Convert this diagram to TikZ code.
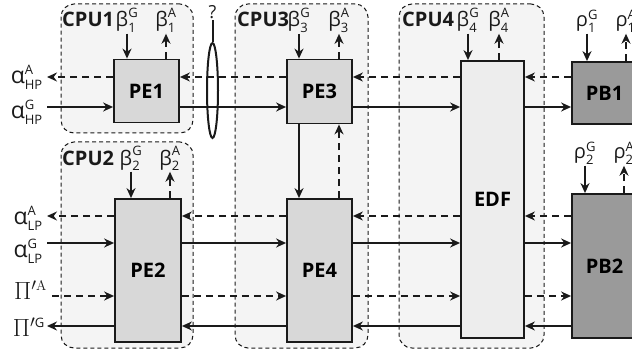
\documentclass[tikz,border=0pt]{standalone}
\usepackage[no-math]{fontspec}
\usepackage{amsmath}
\setmainfont{Open Sans}
\newfontfamily\lmr{Latin Modern Roman}
\usetikzlibrary{arrows.meta,shapes.geometric}
\definecolor{cpufill}{HTML}{F4F4F4}
\definecolor{pefill}{HTML}{D8D8D8}
\definecolor{edffill}{HTML}{EDEDED}
\definecolor{pbfill}{HTML}{9A9A9A}
\definecolor{ink}{HTML}{1A1A1A}
\newcommand\scr[1]{\text{\fontsize{13}{15}\selectfont #1}}
\newcommand\lab[3]{$\text{#1}^{\scr{#2}}_{\scr{#3}}$}
\begin{document}
\begin{tikzpicture}[x=1pt,y=-1pt,
  cpu/.style={draw=ink, line width=1pt, dash pattern=on 4pt off 3pt, fill=cpufill, rounded corners=13pt, inner sep=0pt},
  blk/.style={draw=ink, line width=1.8pt, inner sep=0pt, font=\fontsize{20}{24}\selectfont\bfseries},
  pe/.style={blk, fill=pefill},
  lbl/.style={inner sep=1pt, font=\fontsize{20}{24}\selectfont, text=ink},
  cpulbl/.style={inner sep=0pt, font=\fontsize{20}{24}\selectfont\bfseries, text=ink, anchor=base west},
  conn/.style={draw=ink, line width=2.2pt, -{Stealth[length=10pt,width=9pt]}},
  sol/.style={conn},
  das/.style={conn, dash pattern=on 7pt off 5pt},
]
\useasboundingbox (0,0) rectangle (632,350);
% CPU regions
\node[cpu, minimum width=132pt, minimum height=129pt] (cpu1) at (127,68.5) {};
\node[cpu, minimum width=132pt, minimum height=206pt] (cpu2) at (127,245) {};
\node[cpu, minimum width=133pt, minimum height=344pt] (cpu3) at (301.5,176) {};
\node[cpu, minimum width=145pt, minimum height=344pt] (cpu4) at (471.5,176) {};
% blocks
\node[pe, minimum width=65pt, minimum height=63pt] (pe1) at (146.5,91) {PE1};
\node[pe, minimum width=65pt, minimum height=64pt] (pe3) at (319.5,91.5) {PE3};
\node[pe, minimum width=66pt, minimum height=143pt] (pe2) at (148,270.5) {PE2};
\node[pe, minimum width=65pt, minimum height=143pt] (pe4) at (319.5,270.5) {PE4};
\node[blk, fill=edffill, minimum width=63pt, minimum height=277pt] (edf) at (492.5,199.5) {EDF};
\node[blk, fill=pbfill, minimum width=65pt, minimum height=62pt] (pb1) at (604.5,93) {PB1};
\node[blk, fill=pbfill, minimum width=65pt, minimum height=144pt] (pb2) at (604.5,266) {PB2};
% row coordinates
\coordinate (r1) at (0,77);
\coordinate (r2) at (0,107);
\coordinate (r3) at (0,216);
\coordinate (r4) at (0,243);
\coordinate (r5) at (0,296);
\coordinate (r6) at (0,326);
% CPU titles
\node[cpulbl] (t1) at (62,27) {CPU1};
\node[cpulbl] (t2) at (62,165) {CPU2};
\node[cpulbl] (t3) at (237,27) {CPU3};
\node[cpulbl] (t4) at (402,27) {CPU4};
% top labels
\node[lbl, anchor=base] (b1G) at (127,27) {\lab{β}{G}{1}};
\node[lbl, anchor=base] (b1A) at (166,27) {\lab{β}{A}{1}};
\node[lbl, anchor=base] (b2G) at (131,165) {\lab{β}{G}{2}};
\node[lbl, anchor=base] (b2A) at (170,165) {\lab{β}{A}{2}};
\node[lbl, anchor=base] (b3G) at (299,27) {\lab{β}{G}{3}};
\node[lbl, anchor=base] (b3A) at (339,27) {\lab{β}{A}{3}};
\node[lbl, anchor=base] (b4G) at (468,27) {\lab{β}{G}{4}};
\node[lbl, anchor=base] (b4A) at (499,27) {\lab{β}{A}{4}};
\node[lbl, anchor=base] (p1G) at (587,27) {\lab{ρ}{G}{1}};
\node[lbl, anchor=base] (p1A) at (626,27) {\lab{ρ}{A}{1}};
\node[lbl, anchor=base] (p2G) at (585,159) {\lab{ρ}{G}{2}};
\node[lbl, anchor=base] (p2A) at (624,159) {\lab{ρ}{A}{2}};
% left labels
\node[lbl, anchor=east, inner xsep=4pt, font=\fontsize{23}{26}\selectfont] (ahA) at (47,77) {\lab{α}{A}{HP}};
\node[lbl, anchor=east, inner xsep=4pt, font=\fontsize{23}{26}\selectfont] (ahG) at (47,112) {\lab{α}{G}{HP}};
\node[lbl, anchor=east, inner xsep=4pt, font=\fontsize{23}{26}\selectfont] (alA) at (47,218) {\lab{α}{A}{LP}};
\node[lbl, anchor=east, inner xsep=4pt, font=\fontsize{23}{26}\selectfont] (alG) at (47,251) {\lab{α}{G}{LP}};
\node[lbl, anchor=east, inner xsep=5pt, font=\fontsize{23}{26}\selectfont] (piA) at (52,290) {$\Pi'^{\text{\lmr\fontsize{14}{16}\selectfont A}}$};
\node[lbl, anchor=east, inner xsep=2pt, font=\fontsize{23}{26}\selectfont] (piG) at (47,327) {$\Pi'^{\scr{G}}$};
% question mark and ellipse
\node[lbl, font=\fontsize{18}{21}\selectfont] (q) at (212.5,12) {?};
\node[draw=ink, line width=2pt, ellipse, inner sep=0pt, minimum width=11pt, minimum height=95pt] (ell) at (212.5,90.5) {};
\draw[draw=ink, line width=2pt] (q.south) -- (ell.north);
% vertical control arrows
\foreach \l/\b in {b1G/pe1, b2G/pe2, b3G/pe3, b4G/edf, p1G/pb1, p2G/pb2}
  \draw[sol] (\l.south) -- (\l.south |- \b.north);
\foreach \l/\b in {b1A/pe1, b2A/pe2, b3A/pe3, b4A/edf, p1A/pb1, p2A/pb2}
  \draw[das] (\l.south |- \b.north) -- (\l.south);
% PE3 <-> PE4
\draw[sol] (pe3.south -| b3G) -- (pe4.north -| b3G);
\draw[das] (pe4.north -| b3A) -- (pe3.south -| b3A);
% row 1 (dashed, leftward)
\draw[das] (pb1.west |- r1) -- (edf.east |- r1);
\draw[das] (edf.west |- r1) -- (pe3.east |- r1);
\draw[das] (pe3.west |- r1) -- (pe1.east |- r1);
\draw[das] (pe1.west |- r1) -- (ahA.east |- r1);
% row 2 (solid, rightward)
\draw[sol] (ahG.east |- r2) -- (pe1.west |- r2);
\draw[sol] (pe1.east |- r2) -- (pe3.west |- r2);
\draw[sol] (pe3.east |- r2) -- (edf.west |- r2);
\draw[sol] (edf.east |- r2) -- (pb1.west |- r2);
% row 3 (dashed, leftward)
\draw[das] (pb2.west |- r3) -- (edf.east |- r3);
\draw[das] (edf.west |- r3) -- (pe4.east |- r3);
\draw[das] (pe4.west |- r3) -- (pe2.east |- r3);
\draw[das] (pe2.west |- r3) -- (alA.east |- r3);
% row 4 (solid, rightward)
\draw[sol] (alG.east |- r4) -- (pe2.west |- r4);
\draw[sol] (pe2.east |- r4) -- (pe4.west |- r4);
\draw[sol] (pe4.east |- r4) -- (edf.west |- r4);
\draw[sol] (edf.east |- r4) -- (pb2.west |- r4);
% row 5 (dashed, rightward)
\draw[das] (piA.east |- r5) -- (pe2.west |- r5);
\draw[das] (pe2.east |- r5) -- (pe4.west |- r5);
\draw[das] (pe4.east |- r5) -- (edf.west |- r5);
\draw[das] (edf.east |- r5) -- (pb2.west |- r5);
% row 6 (solid, leftward)
\draw[sol] (pb2.west |- r6) -- (edf.east |- r6);
\draw[sol] (edf.west |- r6) -- (pe4.east |- r6);
\draw[sol] (pe4.west |- r6) -- (pe2.east |- r6);
\draw[sol] (pe2.west |- r6) -- (piG.east |- r6);
\end{tikzpicture}
\end{document}
